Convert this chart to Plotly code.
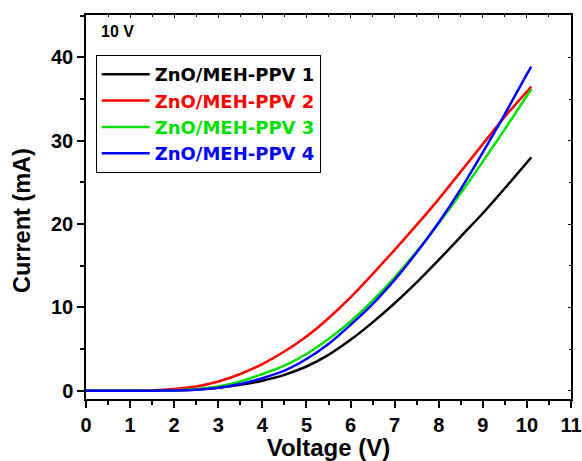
import plotly.graph_objects as go

voltage = [0, 0.5, 1, 1.5, 2, 2.5, 3, 3.5, 4, 4.5, 5, 5.5, 6, 6.5, 7, 7.5, 8, 8.5, 9, 9.5, 10, 10.1]
cur1 = [0, 0, 0, 0, 0.05, 0.15, 0.35, 0.7, 1.2, 1.9, 2.9, 4.3, 6.1, 8.2, 10.5, 13.0, 15.7, 18.5, 21.3, 24.3, 27.4, 28.0]
cur2 = [0, 0, 0, 0.05, 0.2, 0.5, 1.1, 2.0, 3.2, 4.7, 6.5, 8.7, 11.2, 14.0, 16.9, 19.9, 23.0, 26.3, 29.6, 32.9, 35.9, 36.5]
cur3 = [0, 0, 0, 0, 0.05, 0.2, 0.5, 1.1, 2.0, 3.0, 4.4, 6.2, 8.3, 10.8, 13.6, 16.7, 20.1, 23.7, 27.5, 31.4, 35.4, 36.2]
cur4 = [0, 0, 0, 0, 0.03, 0.12, 0.35, 0.8, 1.5, 2.4, 3.8, 5.6, 7.9, 10.4, 13.3, 16.6, 20.2, 24.2, 28.6, 33.2, 38.0, 38.9]
names = ["ZnO/MEH-PPV 1", "ZnO/MEH-PPV 2", "ZnO/MEH-PPV 3", "ZnO/MEH-PPV 4"]
colors = ["#000000", "#ff0000", "#00e000", "#0000ff"]
xticks = list(range(0, 12))
yticks = [0, 10, 20, 30, 40]

FONT = "Arial, 'Liberation Sans', sans-serif"
LFONT = "'DejaVu Sans', sans-serif"

fig = go.Figure()
for ys, n, c in zip([cur1, cur2, cur3, cur4], names, colors):
    fig.add_trace(go.Scatter(
        x=voltage, y=ys, mode="lines",
        name=f"<span style='color:{c}'><b>{n}</b></span>",
        line=dict(color=c, width=2.5, shape="spline", smoothing=0.8),
    ))
# dummy trace to enable mirror axes with inward ticks
fig.add_trace(go.Scatter(x=[None], y=[None], xaxis="x2", yaxis="y2",
                         showlegend=False, hoverinfo="skip"))

axis_common = dict(showline=True, linecolor="black", linewidth=1.5,
                   showgrid=False, zeroline=False, automargin=False,
                   tickfont=dict(family=FONT, size=20, color="black", weight="bold"),
                   ticks="outside", ticklen=7, tickwidth=1.5, tickcolor="black")

fig.update_layout(
    width=582, height=461,
    margin=dict(l=86, r=11, t=15, b=62),
    paper_bgcolor="white", plot_bgcolor="white",
    font=dict(family=FONT, color="black"),
    xaxis=dict(range=[0, 11], tickvals=xticks,
               ticktext=[f"<b>{t}</b>" for t in xticks],
               minor=dict(ticks="outside", ticklen=4, tickwidth=1.5,
                          tickcolor="black", dtick=0.5, tick0=0),
               title=dict(text="<b>Voltage (V)</b>",
                          font=dict(family=FONT, size=24, color="black"),
                          standoff=6),
               **axis_common),
    yaxis=dict(range=[-1, 45.1], tickvals=yticks,
               ticktext=[f"<b>{t}</b>" for t in yticks],
               minor=dict(ticks="outside", ticklen=4, tickwidth=1.5,
                          tickcolor="black", dtick=5, tick0=0),
               **axis_common),
    xaxis2=dict(overlaying="x", side="top", range=[0, 11], showline=True,
                linecolor="black", linewidth=1.5, showgrid=False, zeroline=False,
                showticklabels=False, ticks="inside", ticklen=3, tickwidth=1,
                tickcolor="black", dtick=1, tick0=0, automargin=False,
                minor=dict(ticks="inside", ticklen=2, dtick=0.5, tickcolor="black"),
                anchor="y2"),
    yaxis2=dict(overlaying="y", side="right", range=[-1, 45.1], showline=True,
                linecolor="black", linewidth=1.5, showgrid=False, zeroline=False,
                showticklabels=False, ticks="inside", ticklen=3, tickwidth=1,
                tickcolor="black", dtick=10, tick0=0, automargin=False,
                minor=dict(ticks="inside", ticklen=2, dtick=5, tickcolor="black"),
                anchor="x2"),
    legend=dict(x=0.02, y=0.896, xanchor="left", yanchor="top",
                bordercolor="black", borderwidth=1, bgcolor="white",
                font=dict(family=LFONT, size=18), tracegroupgap=0,
                itemwidth=48),
    showlegend=True,
    annotations=[
        dict(text="<b>10 V</b>", x=0.027, y=0.985, xref="paper", yref="paper",
             xanchor="left", yanchor="top", showarrow=False,
             font=dict(family=FONT, size=16, color="black")),
        dict(text="<b>Current (mA)</b>", x=-0.132, y=0.466, xref="paper", yref="paper",
             xanchor="center", yanchor="middle", showarrow=False, textangle=-90,
             font=dict(family=FONT, size=23.5, color="black")),
    ],
)

fig.write_html("out.html", config={"displayModeBar": False},
               post_script="document.body.style.margin='0';document.body.style.padding='0';")
